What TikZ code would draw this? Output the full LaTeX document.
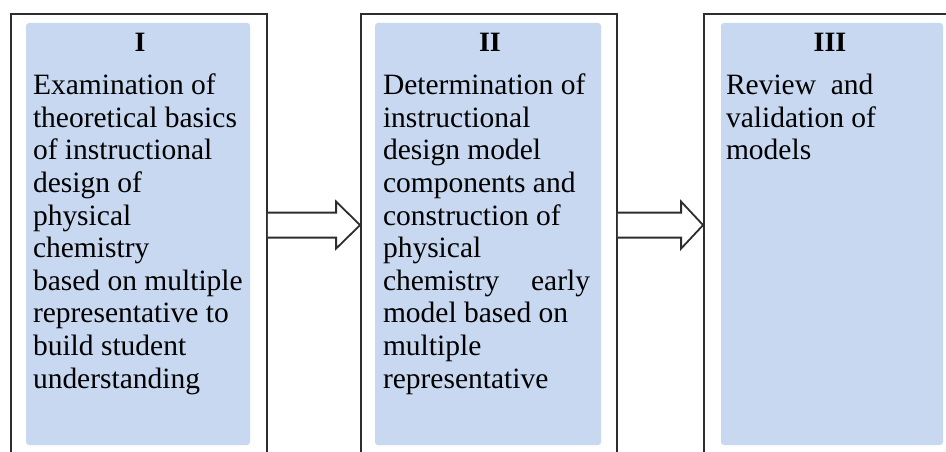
\documentclass[tikz,border=0pt]{standalone}
\usepackage{fontspec}
\setmainfont{Liberation Serif}
\usepackage{tikz}
\usetikzlibrary{calc}
\usetikzlibrary{positioning}

\definecolor{panelblue}{RGB}{199,216,240}
\definecolor{framegray}{RGB}{45,45,45}

\tikzset{
  frame/.style={draw=framegray,line width=1.8pt,fill=white,inner sep=0pt,
                minimum width=256pt,minimum height=466pt},
  panel/.style={fill=panelblue,rounded corners=3pt,inner sep=0pt,minimum height=422pt},
  title/.style={font=\fontsize{28}{32}\selectfont\bfseries,inner sep=0pt,anchor=north},
  body/.style={font=\fontsize{29.5}{32.6}\selectfont,align=left,inner sep=0pt,anchor=north west},
  blockarrow/.style={draw=framegray,line width=1.8pt,fill=white,line join=miter}
}

\begin{document}
\begin{tikzpicture}[x=1pt,y=-1pt]
            \useasboundingbox (0,0) rectangle (946,452);
            \clip (0,0) rectangle (946,452);
            % outer frames
            \node[frame] (frI) at (139,247) {};
            \node[frame] (frII) at (489,247) {};
            \node[frame] (frIII) at (832,247) {};
            % blue panels
            \node[panel,minimum width=224pt] (pI) at (138,234) {};
            \node[panel,minimum width=226pt] (pII) at (488,234) {};
            \node[panel,minimum width=222pt] (pIII) at (832,234) {};
            % titles
            \node[title] (tI) at ($(pI.north)+(2,10)$) {I};
            \node[title] (tII) at ($(pII.north)+(2,10)$) {II};
            \node[title] (tIII) at ($(pIII.north)+(-2,10)$) {III};
            % texts
            \node[body] (bI) at ($(pI.north west)+(7,51)$) {Examination of\\theoretical basics\\of instructional\\design of\\physical\\chemistry\\based on multiple\\representative to\\build student\\understanding};
            \node[body] (bII) at ($(pII.north west)+(8,51)$) {Determination of\\instructional\\design model\\components and\\construction of\\physical\\\makebox[207pt][s]{chemistry early}\\model based on\\multiple\\representative};
            \node[body] (bIII) at ($(pIII.north west)+(5,51)$) {Review\hspace{0.25em} and\\validation of\\models};
            % arrows between the frames
            \coordinate (a1) at ($(frI.north east)+(0,212)$);
            \coordinate (a2) at ($(frII.north west)+(0,212)$);
            \coordinate (a3) at ($(frII.north east)+(0,212)$);
            \coordinate (a4) at ($(frIII.north west)+(0,212)$);
            \draw[blockarrow] ($(a1)+(0,-12.5)$) -- ($(a2)+(-24,-12.5)$) -- ($(a2)+(-24,-23.5)$) -- (a2)
                -- ($(a2)+(-24,23.5)$) -- ($(a2)+(-24,12.5)$) -- ($(a1)+(0,12.5)$);
            \draw[blockarrow] ($(a3)+(0,-12.5)$) -- ($(a4)+(-22,-12.5)$) -- ($(a4)+(-22,-23.5)$) -- (a4)
                -- ($(a4)+(-22,23.5)$) -- ($(a4)+(-22,12.5)$) -- ($(a3)+(0,12.5)$);
        \end{tikzpicture}
\end{document}
